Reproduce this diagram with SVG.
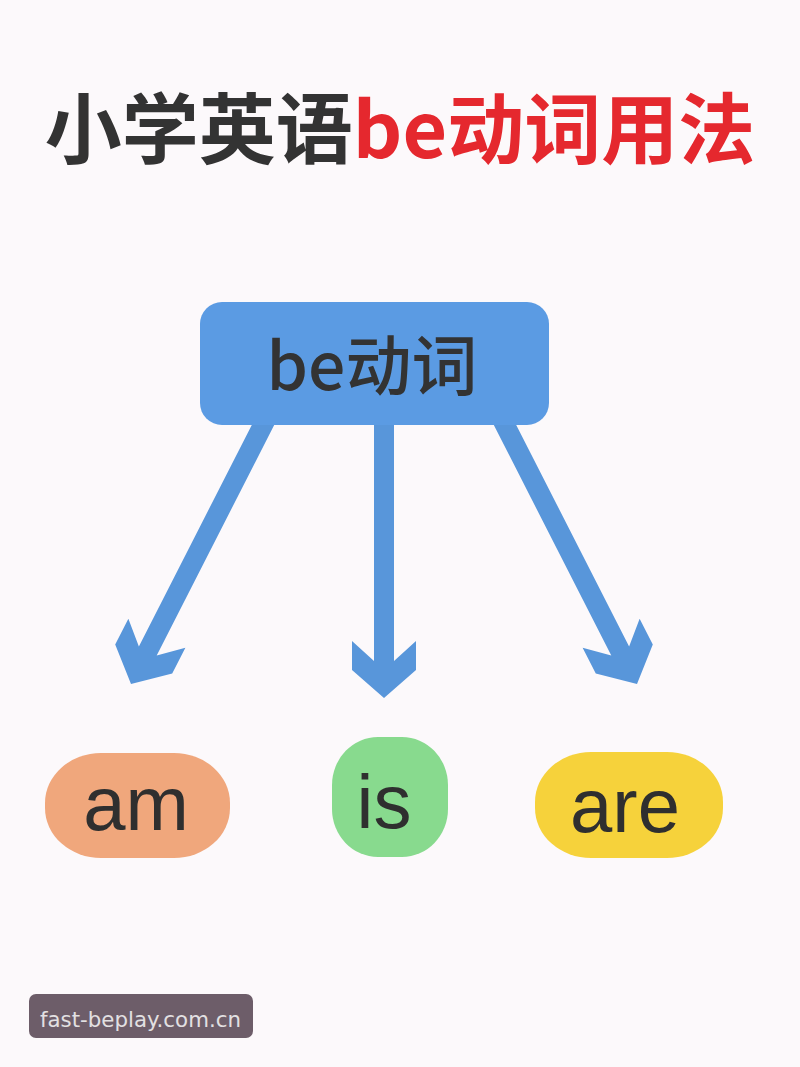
<svg xmlns="http://www.w3.org/2000/svg" width="800" height="1067" viewBox="0 0 800 1067">
  <style>
    .title { font-family: "Noto Sans CJK SC", "Noto Sans", sans-serif; font-weight: 700; font-size: 77px; }
    .dark { fill: #333333; }
    .red { fill: #e5282e; }
    .arrow { fill: #5896da; }
    .word { font-family: "Liberation Sans", Arial, sans-serif; font-size: 76px; fill: #2f2f2f; text-anchor: middle; }
    .boxlabel { font-family: "Noto Sans CJK SC", "Noto Sans", sans-serif; font-size: 66px; font-weight: 500; fill: #333333; text-anchor: middle; }
  </style>
  <defs>
    <path id="arrowShape" d="M 0 0 L -32 -28 L -32 -57 L -10 -37 L -10 -300 L 10 -300 L 10 -37 L 32 -57 L 32 -28 Z"/>
  </defs>
  <rect width="800" height="1067" fill="#fcf9fb"/>

  <g id="title">
    <text class="title" x="400" y="158" text-anchor="middle"><tspan class="dark">小学英语</tspan><tspan class="red">be动词用法</tspan></text>
  </g>

  <g id="connectors">
    <use href="#arrowShape" class="arrow" transform="translate(131 684) rotate(27)"/>
    <use href="#arrowShape" class="arrow" transform="translate(384 698)"/>
    <use href="#arrowShape" class="arrow" transform="translate(637 684) rotate(-27)"/>
  </g>

  <g id="node-be">
    <rect x="200" y="302" width="349" height="123" rx="22" fill="#5b9be3"/>
    <text class="boxlabel" x="372" y="390">be动词</text>
  </g>

  <g id="node-am">
    <rect x="45" y="753" width="185" height="105" rx="56" ry="50" fill="#f0a77c"/>
    <text class="word" x="136" y="830">am</text>
  </g>

  <g id="node-is">
    <rect x="332" y="737" width="116" height="120" rx="46" ry="48" fill="#88da8e"/>
    <text class="word" x="384" y="828">is</text>
  </g>

  <g id="node-are">
    <rect x="535" y="752" width="188" height="106" rx="56" ry="50" fill="#f6d23b"/>
    <text class="word" x="625" y="832">are</text>
  </g>

  <g id="watermark">
    <rect x="29" y="994" width="224" height="44" rx="7" fill="#6d5d69"/>
    <text x="40" y="1027" font-family="DejaVu Sans, sans-serif" font-size="22" fill="#e2e0e2" textLength="201" lengthAdjust="spacingAndGlyphs">fast-beplay.com.cn</text>
  </g>
</svg>
